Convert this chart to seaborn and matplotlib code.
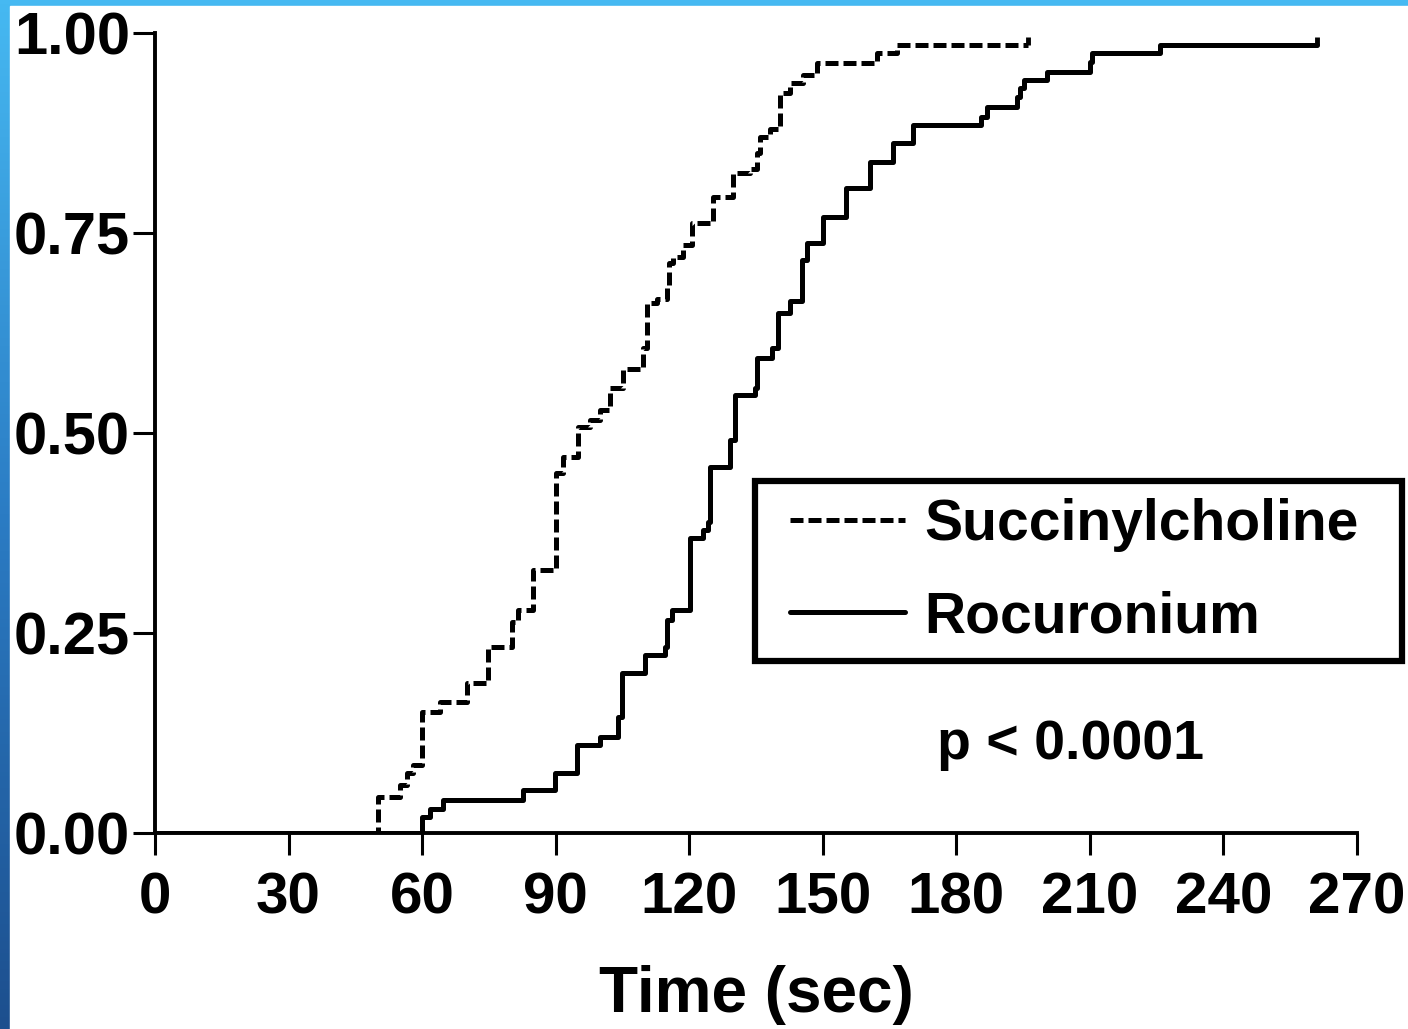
import numpy as np
import pandas as pd
import matplotlib
matplotlib.use("Agg")
import matplotlib.pyplot as plt
import seaborn as sns
from matplotlib.lines import Line2D
from matplotlib.patches import Rectangle
from matplotlib.colors import LinearSegmentedColormap
from matplotlib.ticker import FormatStrFormatter
from matplotlib.legend_handler import HandlerLine2D
from matplotlib import markers

# Cumulative proportion intubated over time (Kaplan-Meier style steps)
succ_time = [0, 50, 55, 56.5, 58, 60, 64, 70, 74.8, 80.2,
             81.5, 85, 90, 91.6, 95, 97.7, 100, 102.2, 105.1, 109.6,
             110.5, 112.8, 115, 115.5, 116.4, 118.6, 120.7, 125.3, 129.8, 133.6,
             135.2, 135.9, 138.2, 140.4, 142.6, 145.6, 148.7, 162.2, 166.7, 196]
succ_cum = [0, 0.045, 0.06, 0.075, 0.085, 0.151, 0.164, 0.1875, 0.2325, 0.264,
            0.279, 0.329, 0.45, 0.47, 0.5075, 0.516, 0.529, 0.556, 0.58, 0.606,
            0.6625, 0.668, 0.684, 0.7125, 0.72, 0.735, 0.7625, 0.795, 0.825, 0.83,
            0.85, 0.87, 0.88, 0.925, 0.9375, 0.9475, 0.9625, 0.975, 0.985, 0.985]

roc_time = [0, 60, 61.8, 64.7, 82.7, 89.8, 94.8, 100, 104, 105,
            110.1, 114.6, 115, 116.1, 120.2, 123, 124.2, 124.7, 129.2, 130.3,
            134.8, 135.2, 138.6, 139.9, 142.6, 145.3, 146.5, 150, 155.2, 160.6,
            165.8, 170.3, 185.5, 186.9, 193.6, 194.3, 195.2, 200.4, 210, 210.5,
            225.7, 261]
roc_cum = [0, 0.02, 0.03, 0.041, 0.054, 0.075, 0.11, 0.12, 0.145, 0.2,
           0.2225, 0.2325, 0.266, 0.279, 0.369, 0.379, 0.389, 0.4575, 0.491, 0.5475,
           0.556, 0.594, 0.606, 0.65, 0.665, 0.716, 0.7375, 0.77, 0.806, 0.839,
           0.8625, 0.885, 0.895, 0.9075, 0.92, 0.931, 0.941, 0.951, 0.964, 0.975,
           0.985, 0.985]

drug_labels = ["Succinylcholine", "Rocuronium"]
x_ticks = [0, 30, 60, 90, 120, 150, 180, 210, 240, 270]
y_ticks = [0.0, 0.25, 0.5, 0.75, 1.0]
p_text = "p < 0.0001"

df = pd.concat([
    pd.DataFrame({"time": succ_time, "cum": succ_cum, "drug": drug_labels[0]}),
    pd.DataFrame({"time": roc_time, "cum": roc_cum, "drug": drug_labels[1]}),
], ignore_index=True)

sns.set_theme(style="ticks")
plt.rcParams["font.family"] = ["Liberation Sans", "DejaVu Sans"]
plt.rcParams["font.weight"] = "bold"
plt.rcParams["text.color"] = "black"
plt.rcParams["axes.labelcolor"] = "black"
plt.rcParams["xtick.color"] = "black"
plt.rcParams["ytick.color"] = "black"

W, H = 1408, 1029
fig = plt.figure(figsize=(W / 100, H / 100), dpi=100)

# slide backdrop: blue gradient edge with a white page
bg = fig.add_axes([0, 0, 1, 1], zorder=-10)
grad = np.linspace(0, 1, 256)[:, None]
cmap = LinearSegmentedColormap.from_list("slide", ["#46b9f2", "#2b7cc4", "#1d4f8e"])
bg.imshow(grad, aspect="auto", cmap=cmap, extent=[0, 1, 0, 1], origin="upper")
bg.add_patch(Rectangle((10 / W, 0), 1, 1 - 6 / H, color="white", transform=bg.transAxes))
bg.set_xlim(0, 1)
bg.set_ylim(0, 1)
bg.set_axis_off()

ax = fig.add_axes([155 / W, 1 - 833 / H, (1357 - 155) / W, 800 / H])
ax.set_facecolor("white")

LW = 3.6
DASH = (2.6, 1.0)
dash_map = {drug_labels[0]: DASH, drug_labels[1]: ""}
sns.lineplot(data=df, x="time", y="cum", style="drug", dashes=dash_map,
             color="black", drawstyle="steps-post", estimator=None, sort=False,
             lw=LW, legend=False, ax=ax)

# censoring ticks at the end of follow-up
ax.plot([succ_time[-1]], [succ_cum[-1]], marker=markers.TICKUP, ms=6, mew=3.5, color="black")
ax.plot([roc_time[-1]], [roc_cum[-1]], marker=markers.TICKUP, ms=6, mew=3.5, color="black")

ax.set_xlim(0, 270)
ax.set_ylim(0, 1)
ax.set_xticks(x_ticks)
ax.set_yticks(y_ticks)
ax.yaxis.set_major_formatter(FormatStrFormatter("%.2f"))
for s in ["top", "right"]:
    ax.spines[s].set_visible(False)
for s in ["left", "bottom"]:
    ax.spines[s].set_linewidth(2.8)
    ax.spines[s].set_color("black")
ax.tick_params(axis="both", length=16, width=2.2, color="black", labelcolor="black")
ax.tick_params(axis="x", pad=12, labelsize=42)
ax.tick_params(axis="y", pad=2, labelsize=43)
for lab in ax.get_xticklabels() + ax.get_yticklabels():
    lab.set_fontweight("bold")

ax.set_xlabel("Time (sec)", fontsize=46, fontweight="bold", labelpad=28, color="black")
ax.set_ylabel("")

handles = [Line2D([], [], color="black", lw=LW, ls=(0, DASH)),
           Line2D([], [], color="black", lw=LW)]
x0, x1 = 755 / W, 1402 / W
leg = ax.legend(handles, drug_labels, loc="upper left", mode="expand",
                bbox_to_anchor=(x0, 1 - 482 / H, x1 - x0, 0.001),
                bbox_transform=fig.transFigure,
                handler_map={Line2D: HandlerLine2D(xpad=0.32)},
                prop={"size": 41, "weight": "bold"}, frameon=True, fancybox=False,
                framealpha=1, edgecolor="black", borderpad=0.3, handlelength=2.33,
                handletextpad=0.35, labelspacing=0.67, borderaxespad=0)
leg.get_frame().set_linewidth(4.5)
for t in leg.get_texts():
    t.set_color("black")

ax.text(175.6, 0.11, p_text, fontsize=40, fontweight="bold", ha="left", va="center",
        color="black")

fig.savefig("out.png", dpi=100)
